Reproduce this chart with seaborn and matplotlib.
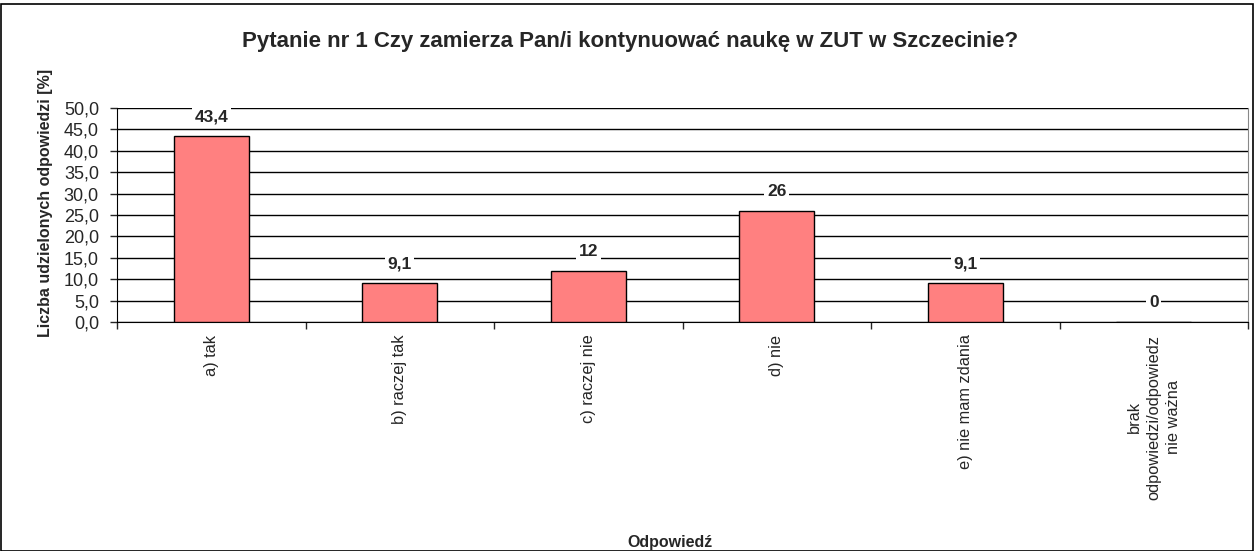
import matplotlib
matplotlib.use("Agg")
import matplotlib.pyplot as plt
import numpy as np
import pandas as pd
import seaborn as sns
from matplotlib.patches import Rectangle
from matplotlib.ticker import FixedLocator, FuncFormatter

categories = [
    "a) tak",
    "b) raczej tak",
    "c) raczej nie",
    "d) nie",
    "e) nie mam zdania",
    "brak\nodpowiedzi/odpowiedz\nnie ważna",
]
values = [43.4, 9.1, 12, 26, 9.1, 0]
value_labels = ["43,4", "9,1", "12", "26", "9,1", "0"]

sns.set_style("white")
plt.rcParams["font.family"] = ["Liberation Sans", "DejaVu Sans"]

df = pd.DataFrame({"cat": categories, "val": values})

fig = plt.figure(figsize=(12.54, 5.51), dpi=100)
ax = fig.add_axes([117 / 1254, 1 - 322 / 551, (1248 - 117) / 1254, (322 - 108) / 551])

sns.barplot(
    data=df, x="cat", y="val", color="#FF8080", saturation=1,
    width=0.4, edgecolor="black", linewidth=1, ax=ax, zorder=3,
)

ax.set_ylim(0, 50)
ax.set_xlim(-0.5, len(categories) - 0.5)
ax.set_yticks(np.arange(0, 50.1, 5))
ax.yaxis.set_major_formatter(FuncFormatter(lambda v, p: f"{v:.1f}".replace(".", ",")))
ax.grid(axis="y", color="black", linewidth=1, zorder=0)
ax.set_axisbelow(True)

ax.tick_params(axis="y", labelsize=13, length=5, direction="out", left=True, width=1, pad=8)
ax.tick_params(axis="x", which="major", length=0, labelsize=11.8, pad=9)
ax.xaxis.set_minor_locator(FixedLocator(np.arange(-0.5, len(categories), 1)))
ax.tick_params(axis="x", which="minor", length=5, width=1, bottom=True)
plt.setp(ax.get_xticklabels(), rotation=90, ha="center", va="top",
         multialignment="center", linespacing=1.4)

ax.spines["top"].set_visible(False)
ax.spines["left"].set_color("black")
ax.spines["bottom"].set_color("black")
ax.spines["right"].set_color("#888888")

for i, (v, lab) in enumerate(zip(values, value_labels)):
    ax.annotate(lab, (i, v), xytext=(0, 14), textcoords="offset points",
                ha="center", va="center", fontsize=12.5, fontweight="bold",
                bbox=dict(boxstyle="square,pad=0.15", fc="white", ec="none"), zorder=4)

ax.set_xlabel("")
ax.set_ylabel("")
fig.text(46 / 1254, 1 - 203 / 551, "Liczba udzielonych odpowiedzi [%]", rotation=90,
         ha="center", va="center", fontsize=11.5, fontweight="bold")
fig.text(670 / 1254, 1 - 543 / 551, "Odpowiedź", ha="center", va="center",
         fontsize=11.5, fontweight="bold")
fig.text(630 / 1254, 1 - 41 / 551,
         "Pytanie nr 1 Czy zamierza Pan/i kontynuować naukę w ZUT w Szczecinie?",
         ha="center", va="center", fontsize=16, fontweight="bold")

fig.patches.append(Rectangle((0.5 / 1254, 0.5 / 551), 1 - 1.5 / 1254, 1 - 4 / 551,
                             transform=fig.transFigure, fill=False,
                             edgecolor="black", linewidth=1.2))

fig.savefig("out.png", dpi=100)
